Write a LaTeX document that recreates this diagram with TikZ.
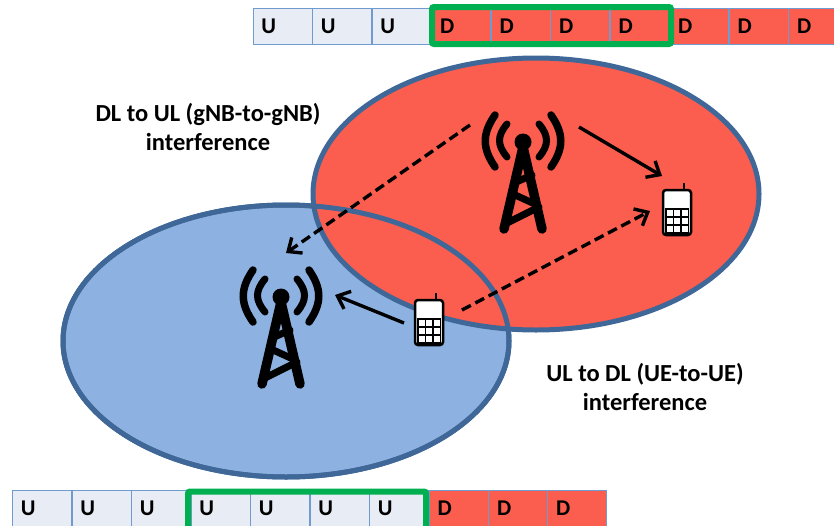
\documentclass[tikz,border=0pt]{standalone}
\usepackage{fontspec}
\setmainfont{Carlito}
\usetikzlibrary{arrows.meta,shapes.geometric}
\definecolor{redc}{HTML}{FB5E4E}
\definecolor{bluec}{HTML}{8DB2E2}
\definecolor{edgec}{HTML}{3F6797}
\definecolor{cellu}{HTML}{E8ECF4}
\definecolor{gridc}{HTML}{6F9BD1}
\definecolor{greenc}{HTML}{00B050}
\tikzset{
 ucell/.style={draw=gridc,line width=0.9pt,fill=cellu,minimum width=59.4pt,minimum height=36pt,inner sep=0pt,anchor=west,font=\bfseries\fontsize{22.5}{22.5}\selectfont,text=black,text depth=0pt},
 dcell/.style={ucell,fill=redc},
 zone/.style={draw=edgec,line width=5pt,ellipse,inner sep=0pt,minimum width=446pt,minimum height=272pt},
 grn/.style={draw=greenc,line width=6pt,rounded corners=2pt},
 lab/.style={align=center,font=\bfseries\fontsize{24.5}{29}\selectfont,inner sep=0pt},
 solidarrow/.style={line width=3.4pt,-{Straight Barb[length=11pt,width=19pt,line width=3.4pt]}},
 dasharrow/.style={solidarrow,dash pattern=on 10pt off 5pt},
 towerline/.style={line cap=round,black},
 wave/.style={line cap=round,black},
 phonebody/.style={draw=black,line width=2.5pt,fill=white,rounded corners=3pt},
}
\newcommand{\tower}[1]{%
 \begin{scope}[shift={#1}]
  \draw[wave,line width=7.5pt] (-28,-27) .. controls (-41,-8) and (-41,6) .. (-28,25);
  \draw[wave,line width=7pt] (-16,-18) .. controls (-26,-6) and (-26,3) .. (-16,15);
  \draw[wave,line width=7.5pt] (28,-27) .. controls (41,-8) and (41,6) .. (28,25);
  \draw[wave,line width=7pt] (16,-18) .. controls (26,-6) and (26,3) .. (16,15);
  \fill (0,0) circle (8.5pt);
  \draw[towerline,line width=9.5pt] (0,5) -- (-19,87);
  \draw[towerline,line width=9.5pt] (0,5) -- (19,87);
  \draw[towerline,line width=7pt] (-16,81) -- (16,65);
  \draw[towerline,line width=7pt] (14,63) -- (-10,52);
  \draw[towerline,line width=7pt] (-9,41) -- (9,33);
 \end{scope}}
\newcommand{\phone}[1]{%
 \begin{scope}[shift={#1}]
  \draw[line width=2pt] (7,-21) -- (7,-14);
  \draw[phonebody] (-14,-14) rectangle (14,31);
  \fill[black] (-12,4) rectangle (12,30);
  \foreach \i in {0,1,2}{\foreach \j in {0,1,2}{
    \fill[white] ({-10.5+\i*7.7},{5.5+\j*8}) rectangle ({-4.5+\i*7.7},{11.5+\j*8});}}
 \end{scope}}
\begin{document}
\begin{tikzpicture}[x=1pt,y=-1pt]
\useasboundingbox (0,0) rectangle (834,525);
% top table
\foreach \n/\x in {t1/252.5,t2/312,t3/371.5}{\node[ucell] (\n) at (\x,26) {\hspace*{-28pt}U};}
\foreach \n/\x in {t4/431,t5/490.5,t6/550,t7/609.5,t8/669,t9/728.5,t10/788}{\node[dcell] (\n) at (\x,26) {\hspace*{-28pt}D};}
\draw[grn] (432,7) rectangle (671,44);
% bottom table
\foreach \n/\x in {b1/12,b2/71.5,b3/131,b4/190.5,b5/250,b6/309.5,b7/369}{\node[ucell] (\n) at (\x,508) {\hspace*{-28pt}U};}
\foreach \n/\x in {b8/428.5,b9/488,b10/547}{\node[dcell] (\n) at (\x,508) {\hspace*{-28pt}D};}
\draw[grn] (188,491.5) rectangle (426,530);
% zones
\node[zone,fill=bluec] (blue) at (286,341) {};
\node[zone,fill=redc] (red) at (536,194) {};
\node[zone] (blueedge) at (286,341) {};
\tower{(523,142)}
\tower{(281,297)}
\phone{(677,204)}
\phone{(429,314)}
\coordinate (gnbA) at (470,125);
\coordinate (gnbAr) at (579,127);
\coordinate (gnbAe) at (662,176);
\coordinate (gnbBe) at (286,253);
\coordinate (gnbBr) at (335,295);
\coordinate (ueB) at (404,323);
\coordinate (ueBd) at (462,310);
\coordinate (ueAe) at (650,211);
\draw[dasharrow] (gnbA) -- (gnbBe);
\draw[dasharrow] (ueBd) -- (ueAe);
\draw[solidarrow] (gnbAr) -- (gnbAe);
\draw[solidarrow] (ueB) -- (gnbBr);
\node[lab] (l1) at (208,127) {DL to UL (gNB-to-gNB)\\interference};
\node[lab] (l2) at (645,387) {UL to DL (UE-to-UE)\\interference};
\end{tikzpicture}
\end{document}
